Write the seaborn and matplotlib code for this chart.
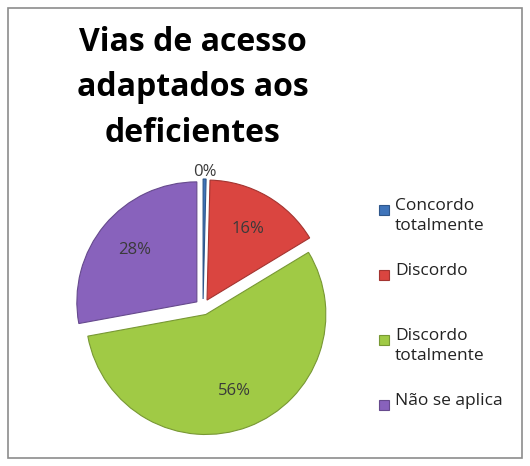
import matplotlib
matplotlib.use("Agg")
import matplotlib.pyplot as plt
from matplotlib.patches import Rectangle
import numpy as np
import seaborn as sns

# data (0% slice is a sliver, rounded to 0)
categories = ["Concordo totalmente", "Discordo", "Discordo totalmente", "Não se aplica"]
legend_labels = ["Concordo\ntotalmente", "Discordo", "Discordo\ntotalmente", "Não se aplica"]
values = [0.4, 16, 56, 28]
pct_labels = ["0%", "16%", "56%", "28%"]
title = "Vias de acesso\nadaptados aos\ndeficientes"

sns.set_theme(style="white")
plt.rcParams["font.family"] = ["Open Sans", "DejaVu Sans"]

colors = sns.color_palette(["#3F74BA", "#DA4540", "#A0CA45", "#8862BC"])
edges = [tuple(c * 0.75 for c in col) for col in colors]

W, H = 530, 466
fig = plt.figure(figsize=(W / 100, H / 100), dpi=100)
fig.patch.set_facecolor("white")

# outer frame like the Excel chart area
fig.patches.append(Rectangle((8 / W, 8 / H), (522 - 8) / W, (458 - 8) / H,
                             transform=fig.transFigure, fill=False,
                             edgecolor="#8c8c8c", linewidth=1.2))

# pie axes: centre at (203, 307) px, 100 px per unit
cx, cy = 203, 307
ax = fig.add_axes([(cx - 150) / W, (H - cy - 150) / H, 300 / W, 300 / H])

R = 1.2
explode = [0.08, 0.08, 0.08, 0.08]
wedges, _ = ax.pie(values, colors=colors, startangle=90, counterclock=False,
                   radius=R, explode=explode,
                   wedgeprops=dict(linewidth=0.8))
for w, e in zip(wedges, edges):
    w.set_edgecolor(e)
ax.set_xlim(-1.5, 1.5)
ax.set_ylim(-1.5, 1.5)
ax.set_aspect("equal")
ax.axis("off")

# percentage labels placed along each wedge's bisector
for i, (w, lab) in enumerate(zip(wedges, pct_labels)):
    ang = np.deg2rad((w.theta1 + w.theta2) / 2)
    x0, y0 = w.center
    d = 1.06 * R if values[i] < 1 else 0.68 * R
    ax.text(x0 + d * np.cos(ang), y0 + d * np.sin(ang), lab,
            ha="center", va="center", fontsize=12, color="#3a3a3a")

# title
fig.text(193 / W, 1 - 88 / H, title, ha="center", va="center",
         fontsize=23, fontweight="bold", color="black", linespacing=1.5)

# legend (marker aligned with first line, like Excel)
legend_y = [210, 275, 340, 405]
for lab, col, ecol, y in zip(legend_labels, colors, edges, legend_y):
    fig.patches.append(Rectangle((379 / W, 1 - (y + 5) / H), 10 / W, 10 / H,
                                 transform=fig.transFigure, facecolor=col,
                                 edgecolor=ecol, linewidth=0.8))
    fig.text(395 / W, 1 - (y - 12) / H, lab, ha="left", va="top",
             fontsize=12.5, color="#222222", linespacing=1.3)

fig.savefig("out.png", dpi=100)
